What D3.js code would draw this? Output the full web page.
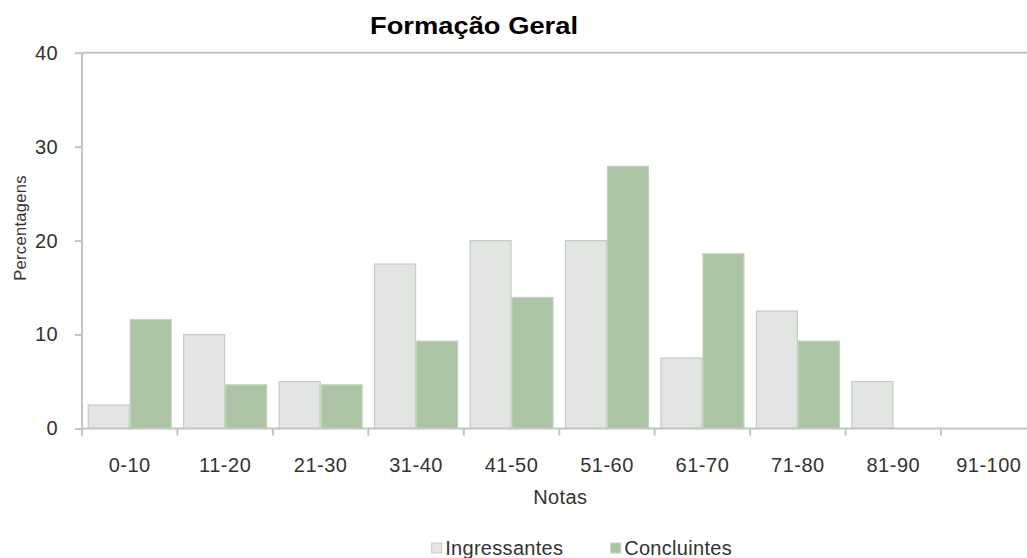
<!DOCTYPE html>
<html>
<head>
<meta charset="utf-8">
<script src="https://cdn.jsdelivr.net/npm/d3@7/dist/d3.min.js"></script>
<style>
  html, body { margin: 0; padding: 0; background: #fff; }
  svg { display: block; font-family: "Liberation Sans", Arial, sans-serif; }
</style>
</head>
<body>
<svg id="chart" width="1027" height="558"></svg>
<script>
const categories = ["0-10","11-20","21-30","31-40","41-50","51-60","61-70","71-80","81-90","91-100"];
const ingressantes = [2.5, 10, 5, 17.5, 20, 20, 7.5, 12.5, 5, 0];
const concluintes = [11.6, 4.65, 4.65, 9.3, 13.95, 27.9, 18.6, 9.3, 0, 0];
const seriesNames = ["Ingressantes", "Concluintes"];
const yTicks = [0, 10, 20, 30, 40];

const svg = d3.select("#chart");
const colors = { Ingressantes: "#e3e5e2", Concluintes: "#abc4a3" };
const strokes = { Ingressantes: "#c3cfc2", Concluintes: "#c3d3be" };
const axisColor = "#c4c4c4";
const textColor = "#333333";

const pLeft = 82, pRight = 1036.5, pTop = 52.7, pBottom = 428.5;

const x0 = d3.scaleBand().domain(categories).range([pLeft, pRight])
  .paddingInner(0.12).paddingOuter(0.06);
const x1 = d3.scaleBand().domain(seriesNames).range([0, x0.bandwidth()]);
const y = d3.scaleLinear().domain([0, 40]).range([pBottom, pTop]);

// plot area border (top)
svg.append("line").attr("x1", pLeft).attr("x2", pRight).attr("y1", y(40)).attr("y2", y(40))
  .attr("stroke", axisColor).attr("stroke-width", 2);

// bars
const data = categories.map((c, i) => ({ c, vals: [
  { s: "Ingressantes", v: ingressantes[i] },
  { s: "Concluintes", v: concluintes[i] }
]}));

const g = svg.append("g");
g.selectAll("g.cat").data(data).join("g")
  .attr("transform", d => `translate(${x0(d.c)},0)`)
  .selectAll("rect").data(d => d.vals.filter(e => e.v > 0)).join("rect")
  .attr("x", d => x1(d.s) + 0.5)
  .attr("width", x1.bandwidth() - 1)
  .attr("y", d => y(d.v))
  .attr("height", d => y(0) - y(d.v))
  .attr("fill", d => colors[d.s])
  .attr("stroke", d => strokes[d.s])
  .attr("stroke-width", 1.2);

// y axis
const yAxis = d3.axisLeft(y).tickValues(yTicks).tickSize(7).tickPadding(10);
const ya = svg.append("g").attr("transform", `translate(${pLeft},0)`).call(yAxis);
ya.select(".domain").remove();
ya.selectAll(".tick line").attr("stroke", axisColor).attr("stroke-width", 2);
ya.selectAll(".tick text").attr("fill", textColor).style("font-size", "20px")
  .style("font-family", "'Liberation Sans', Arial, sans-serif")
  .style("letter-spacing", "0.4px").attr("x", -24);
svg.append("line").attr("x1", pLeft).attr("x2", pLeft).attr("y1", y(40)).attr("y2", pBottom + 7)
  .attr("stroke", axisColor).attr("stroke-width", 2);

// x axis
svg.append("line").attr("x1", pLeft).attr("x2", pRight).attr("y1", pBottom).attr("y2", pBottom)
  .attr("stroke", axisColor).attr("stroke-width", 2);
const step = x0.step();
const boundaries = d3.range(categories.length + 1).map(i => pLeft + i * step);
svg.selectAll("line.xt").data(boundaries).join("line")
  .attr("x1", d => d).attr("x2", d => d).attr("y1", pBottom).attr("y2", pBottom + 7)
  .attr("stroke", axisColor).attr("stroke-width", 2);
const xAxis = d3.axisBottom(x0).tickSize(0).tickPadding(0);
const xa = svg.append("g").attr("transform", `translate(0,${pBottom})`).call(xAxis);
xa.select(".domain").remove();
xa.selectAll(".tick text").attr("fill", textColor).style("font-size", "20px")
  .style("font-family", "'Liberation Sans', Arial, sans-serif")
  .style("letter-spacing", "0.5px")
  .attr("dy", null).attr("y", 43.5);

// axis titles
svg.append("text").attr("x", (pLeft + pRight) / 2 + 1).attr("y", 504)
  .attr("text-anchor", "middle").attr("fill", textColor).style("font-size", "20px")
  .style("letter-spacing", "0.4px").text("Notas");
svg.append("text").attr("transform", "translate(26,228) rotate(-90)")
  .attr("text-anchor", "middle").attr("fill", textColor).style("font-size", "16.5px")
  .style("letter-spacing", "0.3px").text("Percentagens");

// title
svg.append("text").attr("x", 474).attr("y", 33.5).attr("text-anchor", "middle")
  .attr("fill", "#000").style("font-size", "24px").style("font-weight", "bold")
  .attr("textLength", 208).attr("lengthAdjust", "spacingAndGlyphs")
  .text("Formação Geral");

// legend
const legendX = [431.7, 610.7];
const lg = svg.selectAll("g.leg").data(seriesNames).join("g")
  .attr("transform", (d, i) => `translate(${legendX[i]},543)`);
lg.append("rect").attr("width", 10).attr("height", 10)
  .attr("fill", d => colors[d]).attr("stroke", d => strokes[d]).attr("stroke-width", 1);
lg.append("text").attr("x", 13.5).attr("y", 12).attr("fill", textColor)
  .style("font-size", "20px").style("letter-spacing", "0.3px").text(d => d);
</script>
</body>
</html>
